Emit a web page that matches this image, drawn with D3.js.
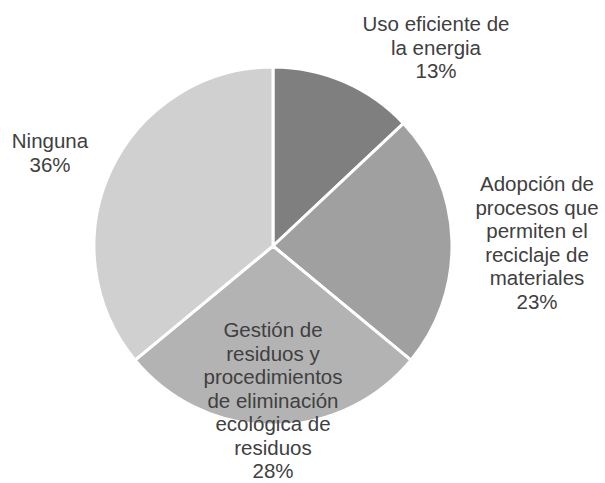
<!DOCTYPE html>
<html>
<head>
<meta charset="utf-8">
<script src="https://cdn.jsdelivr.net/npm/d3@7"></script>
<style>
  body { margin: 0; background: #fff; }
  text { font-family: "Liberation Sans", Arial, sans-serif; fill: #404040; }
</style>
</head>
<body>
<div id="chart"></div>
<script>
// Data
const categories = [
    'Uso eficiente de la energia',
    'Adopción de procesos que permiten el reciclaje de materiales',
    'Gestión de residuos y procedimientos de eliminación ecológica de residuos',
    'Ninguna'
];
const values = [13, 23, 28, 36];
const labelLines = [
    ['Uso eficiente de', 'la energia'],
    ['Adopción de', 'procesos que', 'permiten el', 'reciclaje de', 'materiales'],
    ['Gestión de', 'residuos y', 'procedimientos', 'de eliminación', 'ecológica de', 'residuos'],
    ['Ninguna']
];
const colors = ['#7f7f7f', '#a0a0a0', '#b3b3b3', '#d0d0d0'];

// Layout
const width = 605;
const height = 483;
const center = {x: 273, y: 246};
const radius = 179;
const lineHeight = 23.5;
// label block anchor: x centre and first baseline
const labelPos = [
    {x: 436, y: 31},
    {x: 537, y: 191},
    {x: 273, y: 337},
    {x: 50, y: 148}
];

const svg = d3.select('div#chart').append('svg').attr('width', width).attr('height', height);
const pieGroup = svg.append('g').attr('transform', `translate(${center.x},${center.y})`);

const pie = d3.pie().sort(null).value(d => d);
const arc = d3.arc().innerRadius(0).outerRadius(radius);

pieGroup.selectAll('path')
    .data(pie(values))
    .enter().append('path')
    .attr('d', arc)
    .attr('fill', (d, i) => colors[i])
    .attr('stroke', '#fff')
    .attr('stroke-width', 3)
    .attr('stroke-linejoin', 'round');

// Labels
const total = d3.sum(values);
const labelGroup = svg.append('g');
categories.forEach((c, i) => {
    const t = labelGroup.append('text')
        .attr('text-anchor', 'middle')
        .attr('font-size', '20.5px');
    const lines = labelLines[i].concat([Math.round(values[i] / total * 100) + '%']);
    lines.forEach((l, j) => {
        t.append('tspan')
            .attr('x', labelPos[i].x)
            .attr('y', labelPos[i].y + j * lineHeight)
            .text(l);
    });
});
</script>
</body>
</html>
